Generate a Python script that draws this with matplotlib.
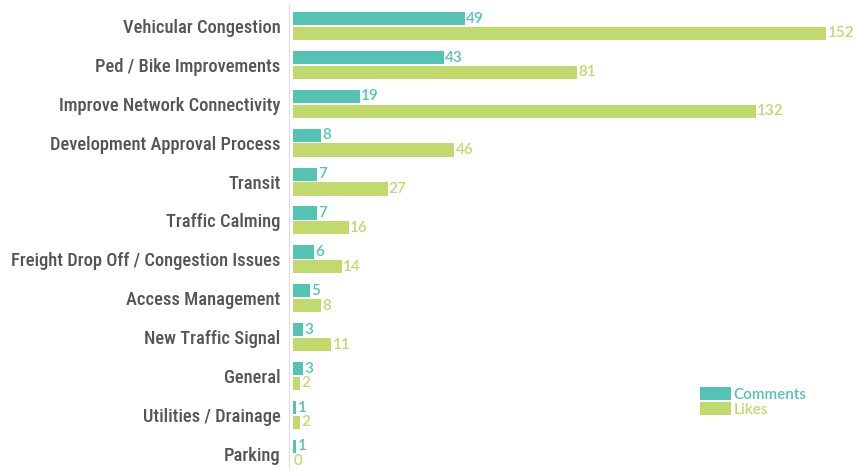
import matplotlib.pyplot as plt
import numpy as np

categories = ["Vehicular Congestion", "Ped / Bike Improvements", "Improve Network Connectivity",
              "Development Approval Process", "Transit", "Traffic Calming",
              "Freight Drop Off / Congestion Issues", "Access Management", "New Traffic Signal",
              "General", "Utilities / Drainage", "Parking"]
comments = [49, 43, 19, 8, 7, 7, 6, 5, 3, 3, 1, 1]
likes = [152, 81, 132, 46, 27, 16, 14, 8, 11, 2, 2, 0]

TEAL = '#55c3b4'
LIME = '#c2d96e'
NUM_FONT = ['Lato', 'DejaVu Sans']
CAT_FONT = ['Roboto Condensed', 'DejaVu Sans']

fig = plt.figure(figsize=(8.57, 4.69), dpi=100)
ax = fig.add_axes([289 / 857, 0, 568 / 857, 1 - 5 / 469])

y = np.arange(len(categories))
h = 0.34
ax.barh(y - 0.19, comments, height=h, color=TEAL, label='Comments')
ax.barh(y + 0.19, likes, height=h, color=LIME, label='Likes')

for i in range(len(categories)):
    ax.text(comments[i] + 0.3, y[i] - 0.19, str(comments[i]), color=TEAL, fontsize=11,
            family=NUM_FONT, fontweight='semibold', va='center', ha='left')
    ax.text(likes[i] + 0.3, y[i] + 0.19, str(likes[i]), color=LIME, fontsize=11,
            family=NUM_FONT, fontweight='semibold', va='center', ha='left')

ax.set_xlim(-1.1, 160.7)
ax.set_ylim(11.39, -0.54)
ax.set_yticks(y)
ax.set_yticklabels(categories, fontsize=13.3, color='#555555', family=CAT_FONT, fontweight='medium')
ax.tick_params(axis='y', length=0, pad=6)
ax.set_xticks([])
for s in ['top', 'right', 'bottom']:
    ax.spines[s].set_visible(False)
ax.spines['left'].set_color('#dddddd')

leg = ax.legend(loc='upper left', bbox_to_anchor=(700 / 857, 1 - 387 / 469),
                bbox_transform=fig.transFigure, frameon=False,
                handlelength=2.0, handleheight=0.9, handletextpad=0.2, labelspacing=0.05,
                borderpad=0, borderaxespad=0,
                prop={'family': NUM_FONT, 'size': 11, 'weight': 'semibold'})
for t, c in zip(leg.get_texts(), [TEAL, LIME]):
    t.set_color(c)

fig.savefig('out.png', dpi=100)
